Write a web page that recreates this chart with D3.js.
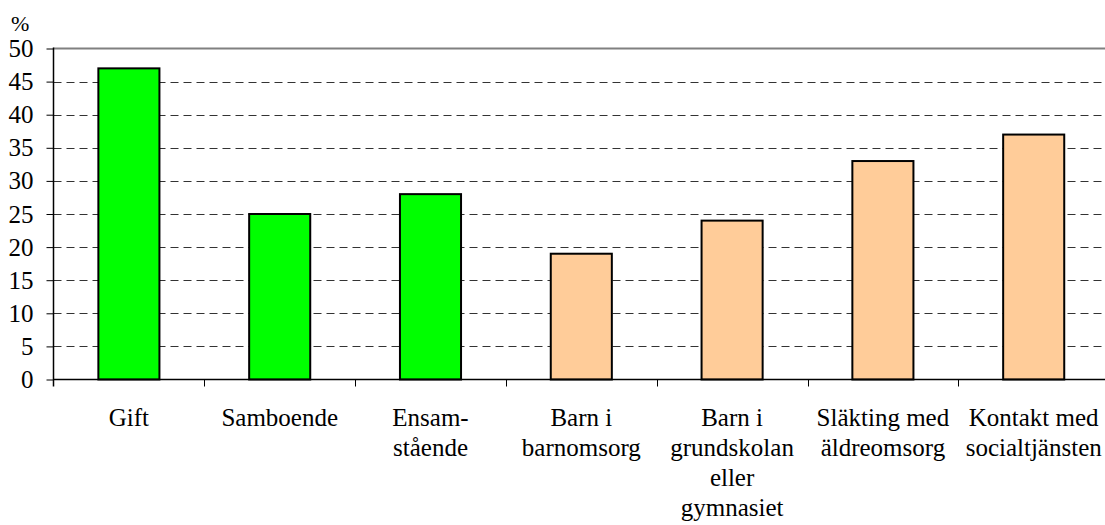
<!DOCTYPE html>
<html>
<head>
<meta charset="utf-8">
<script src="https://cdn.jsdelivr.net/npm/d3@7"></script>
</head>
<body style="margin:0;background:#fff">
<svg id="chart" width="1105" height="525"></svg>
<script>
const categories = ["Gift", "Samboende", "Ensamstående", "Barn i barnomsorg", "Barn i grundskolan eller gymnasiet", "Släkting med äldreomsorg", "Kontakt med socialtjänsten"];
const categoryLines = [["Gift"], ["Samboende"], ["Ensam-", "stående"], ["Barn i", "barnomsorg"], ["Barn i", "grundskolan", "eller", "gymnasiet"], ["Släkting med", "äldreomsorg"], ["Kontakt med", "socialtjänsten"]];
const values = [47, 25, 28, 19, 24, 33, 37];
const groups = ["civil", "civil", "civil", "service", "service", "service", "service"];
const yTicks = [0, 5, 10, 15, 20, 25, 30, 35, 40, 45, 50];
const yLabel = "%";

(function () {
const FONT = "Times New Roman";
const colors = { civil: "#00FF00", service: "#FFCC99" };

const svg = d3.select("#chart");
const mLeft = 53.5, mTop = 48.5, mBottom = 379.5, step = 150.8;
const mRight = mLeft + step * categories.length;

const x = d3.scaleBand().domain(categories).range([mLeft, mRight]).paddingInner(0).paddingOuter(0);
const y = d3.scaleLinear().domain([0, 50]).range([mBottom, mTop]);

// dashed gridlines
svg.append("g").selectAll("line")
  .data(yTicks.filter(t => t > 0 && t < 50))
  .join("line")
  .attr("x1", mLeft).attr("x2", mRight)
  .attr("y1", d => Math.round(y(d)) + 0.5).attr("y2", d => Math.round(y(d)) + 0.5)
  .attr("stroke", "#333").attr("stroke-width", 1)
  .attr("stroke-dasharray", "8,5");

// top border line (at 50)
svg.append("line")
  .attr("x1", mLeft).attr("x2", mRight)
  .attr("y1", y(50)).attr("y2", y(50))
  .attr("stroke", "#808080").attr("stroke-width", 2);

// bars
const bw = x.bandwidth() * 0.405;
svg.append("g").selectAll("rect")
  .data(categories)
  .join("rect")
  .attr("x", d => x(d) + (x.bandwidth() - bw) / 2)
  .attr("y", (d, i) => y(values[i]))
  .attr("width", bw)
  .attr("height", (d, i) => y(0) - y(values[i]))
  .attr("fill", (d, i) => colors[groups[i]])
  .attr("stroke", "#000").attr("stroke-width", 2);

// y axis
const yAxis = d3.axisLeft(y).tickValues(yTicks).tickSize(7).tickPadding(13).tickFormat(d3.format("d"));
const gy = svg.append("g").attr("transform", `translate(${mLeft},0)`).call(yAxis);
gy.attr("font-family", FONT).attr("font-size", 25);
gy.select(".domain").remove();
gy.selectAll(".tick line").attr("stroke", "#000").attr("stroke-width", 1);
gy.selectAll(".tick text").attr("font-size", 25).attr("font-family", FONT).attr("fill", "#000");
svg.append("line").attr("x1", mLeft).attr("x2", mLeft).attr("y1", mTop - 1).attr("y2", mBottom + 7)
  .attr("stroke", "#000").attr("stroke-width", 1.5);

// x axis line and ticks
svg.append("line").attr("x1", mLeft).attr("x2", mRight).attr("y1", mBottom).attr("y2", mBottom)
  .attr("stroke", "#000").attr("stroke-width", 1.5);
svg.append("g").selectAll("line")
  .data(categories.slice(1))
  .join("line")
  .attr("x1", d => Math.round(x(d)) + 0.5).attr("x2", d => Math.round(x(d)) + 0.5)
  .attr("y1", mBottom).attr("y2", mBottom + 7)
  .attr("stroke", "#000").attr("stroke-width", 1);

// category labels
const labelG = svg.append("g").attr("font-family", FONT).attr("font-size", 25);
categories.forEach((c, i) => {
  const t = labelG.append("text")
    .attr("x", x(c) + x.bandwidth() / 2)
    .attr("y", 426)
    .attr("text-anchor", "middle")
    .attr("font-family", FONT)
    .attr("font-size", 25)
    .attr("fill", "#000");
  categoryLines[i].forEach((line, j) => {
    t.append("tspan").attr("x", x(c) + x.bandwidth() / 2).attr("dy", j === 0 ? 0 : 30).text(line);
  });
});

// unit label
svg.append("text").attr("x", 11).attr("y", 31)
  .attr("font-family", FONT).attr("font-size", 22).attr("fill", "#000").text(yLabel);
})();
</script>
</body>
</html>
